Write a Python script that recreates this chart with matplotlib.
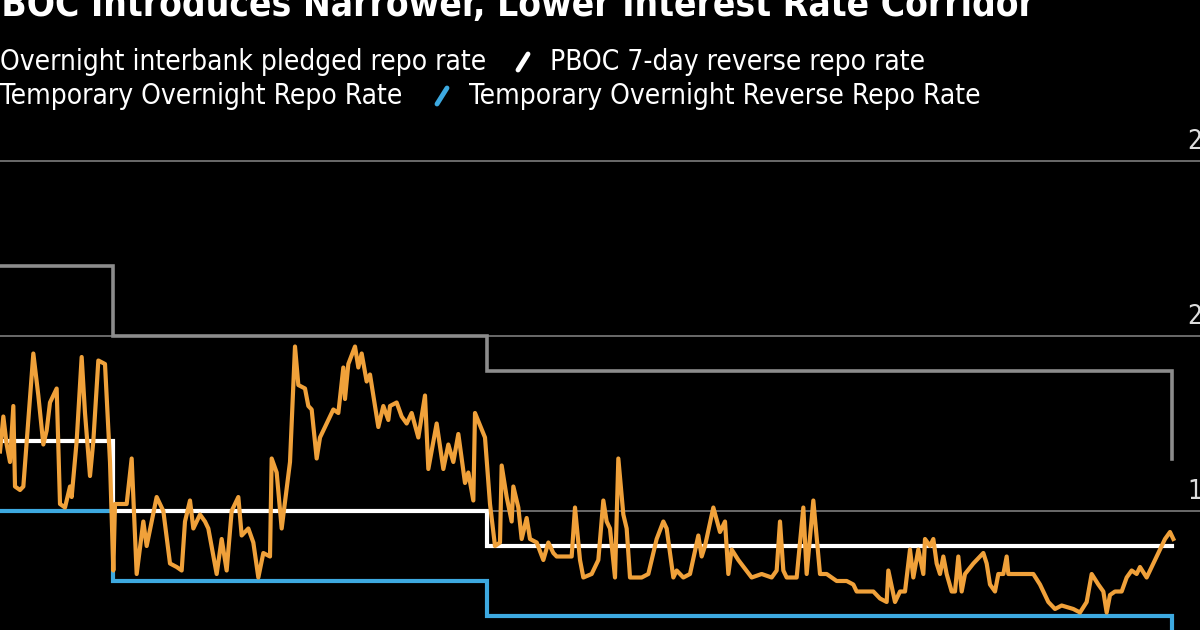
import matplotlib
matplotlib.use("Agg")
import matplotlib.pyplot as plt
from matplotlib import font_manager
from matplotlib.lines import Line2D
import matplotlib.transforms as mtransforms

# ---------------- data ----------------
title = "PBOC Introduces Narrower, Lower Interest Rate Corridor"
series_names = ["Overnight interbank pledged repo rate",
                "PBOC 7-day reverse repo rate",
                "Temporary Overnight Repo Rate",
                "Temporary Overnight Reverse Repo Rate"]

# day index of observations, overnight pledged repo rate (%)
days = [0,2,4,6,8,9,12,14,20,23,26,28,30,34,36,39,42,43,46,49,51,54,56,59,63,66,68,69,76,79,
        82,86,88,94,98,102,106,109,111,114,116,120,123,125,130,133,136,139,143,145,149,152,155,158,162,163,166,169,174,177,
        179,183,185,187,190,192,200,203,206,207,209,213,215,217,220,222,227,230,233,234,238,241,244,247,251,255,257,262,266,269,
        272,275,279,281,284,285,291,294,297,300,301,304,307,308,311,313,316,318,322,326,329,332,334,343,345,348,350,355,359,362,
        364,366,369,371,374,376,378,385,389,394,398,400,404,406,408,410,414,419,421,423,428,432,435,437,439,443,451,457,463,466,
        468,470,472,478,482,484,488,492,496,499,502,508,512,514,520,524,528,532,533,537,540,543,546,548,551,554,555,558,560,562,
        564,566,568,571,573,575,577,579,584,590,592,594,597,599,602,604,605,620,624,626,629,633,637,644,648,652,655,659,662,664,
        666,669,673,676,679,682,684,688,692,696,699,702,704]
pledged_repo = [1.67,1.77,1.69,1.64,1.80,1.57,1.56,1.57,1.95,1.83,1.69,1.73,1.81,1.85,1.52,1.51,1.57,1.54,1.70,1.94,
                1.78,1.60,1.70,1.93,1.92,1.64,1.33,1.52,1.52,1.65,1.32,1.47,1.40,1.54,1.50,1.35,1.34,1.33,1.47,1.53,
                1.45,1.49,1.47,1.45,1.32,1.42,1.33,1.50,1.54,1.43,1.45,1.41,1.31,1.38,1.37,1.65,1.61,1.45,1.64,1.97,
                1.86,1.85,1.80,1.79,1.65,1.71,1.79,1.78,1.91,1.82,1.92,1.97,1.91,1.95,1.87,1.89,1.74,1.80,1.76,1.80,
                1.81,1.77,1.75,1.78,1.71,1.83,1.62,1.75,1.62,1.69,1.64,1.72,1.58,1.61,1.53,1.78,1.71,1.52,1.40,1.41,
                1.63,1.54,1.47,1.57,1.51,1.42,1.48,1.42,1.41,1.36,1.41,1.38,1.37,1.37,1.51,1.36,1.31,1.32,1.36,1.53,
                1.47,1.45,1.31,1.65,1.49,1.45,1.31,1.31,1.32,1.42,1.47,1.45,1.31,1.33,1.32,1.31,1.32,1.43,1.37,1.40,
                1.51,1.44,1.47,1.32,1.39,1.36,1.31,1.32,1.31,1.33,1.47,1.33,1.31,1.31,1.51,1.32,1.53,1.32,1.32,1.31,
                1.30,1.30,1.29,1.27,1.27,1.27,1.25,1.24,1.33,1.24,1.27,1.27,1.39,1.31,1.39,1.32,1.42,1.40,1.42,1.35,
                1.32,1.37,1.32,1.27,1.27,1.37,1.27,1.32,1.35,1.38,1.35,1.29,1.27,1.32,1.32,1.37,1.32,1.32,1.29,1.27,
                1.24,1.22,1.23,1.22,1.21,1.24,1.32,1.29,1.27,1.21,1.26,1.27,1.27,1.31,1.33,1.32,1.34,1.31,1.35,1.39,
                1.42,1.44,1.42]

# policy-rate step changes (day index where each level starts)
change_days = [0, 68, 292, 703]
pboc_7day = [1.70, 1.50, 1.40, 1.40]
temp_repo_ceiling = [2.20, 2.00, 1.90, 1.65]
temp_reverse_floor = [1.50, 1.30, 1.20, 1.15]

y_ticks = [1.5, 2.0, 2.5]
y_tick_labels = ["1.5", "2.0", "2.5"]

# ---------------- style ----------------
W, H, DPI = 1200, 630, 100
BG = "#000000"
C_ORANGE = "#F0A13A"
C_WHITE = "#FFFFFF"
C_GRAY = "#8C8C8C"
C_BLUE = "#3DA9E0"
C_GRID = "#6A6A6A"

names = {(f.name, f.stretch) for f in font_manager.fontManager.ttflist}
fam_names = {n for n, s in names}
if "Liberation Sans Narrow" in fam_names:
    FONT = dict(family="Liberation Sans Narrow")
elif ("DejaVu Sans", "condensed") in names:
    FONT = dict(family="DejaVu Sans", stretch="condensed")
else:
    FONT = dict(family="Roboto")

fig = plt.figure(figsize=(W / DPI, H / DPI), dpi=DPI, facecolor=BG)
ax = fig.add_axes([0, 0, 1, 1])
ax.set_facecolor(BG)

# x: pixel 0 -> day 0, pixel 1200 -> day 720 ; y: pixel 630 -> 1.16, pixel 0 -> 2.96
ax.set_xlim(0, 720)
ax.set_ylim(1.16, 2.96)
for s in ax.spines.values():
    s.set_visible(False)
ax.set_yticks(y_ticks)
ax.set_xticks([])
ax.tick_params(axis="y", length=0, labelleft=False, labelright=False)
ax.grid(axis="y", color=C_GRID, linewidth=1.4)
ax.set_axisbelow(True)

ax.plot(change_days, temp_repo_ceiling, drawstyle="steps-post", color=C_GRAY, lw=2.6,
        solid_joinstyle="miter", zorder=2)
ax.plot(change_days, temp_reverse_floor, drawstyle="steps-post", color=C_BLUE, lw=3.0,
        solid_joinstyle="miter", zorder=2)
ax.plot(change_days, pboc_7day, drawstyle="steps-post", color=C_WHITE, lw=3.0,
        solid_joinstyle="miter", zorder=3)
ax.plot(days, pledged_repo, color=C_ORANGE, lw=3.0, solid_joinstyle="round", zorder=4)

# right-side tick labels, sitting above gridlines (cut by the canvas edge as in the reference)
offset = mtransforms.ScaledTranslation(0, 12 / DPI, fig.dpi_scale_trans)
trans = mtransforms.blended_transform_factory(ax.transAxes, ax.transData) + offset
for v, lab in zip(y_ticks, y_tick_labels):
    ax.text(1187 / W, v, lab, transform=trans, ha="left", va="baseline",
            color="#DDDDDD", fontsize=19, **FONT)

renderer = fig.canvas.get_renderer()


def fit_size(text, target_px, weight="normal", trial=20):
    t = fig.text(0, 0, text, fontsize=trial, fontweight=weight, **FONT)
    w = t.get_window_extent(renderer).width
    t.remove()
    return trial * target_px / w


def fx(px):
    return px / W


def fy(py):
    return 1 - py / H


# title (cut off at the top/left as in the reference)
tsize = fit_size(title[1:], 1038, weight="bold")
fig.text(fx(1035), fy(16), title, ha="right", va="baseline", fontsize=tsize,
         fontweight="bold", color="#FFFFFF", **FONT)

# legend
lsize = fit_size(series_names[0], 487)
fig.text(fx(0), fy(70), series_names[0], ha="left", va="baseline", fontsize=lsize,
         color="#FFFFFF", **FONT)
fig.text(fx(550), fy(70), series_names[1], ha="left", va="baseline", fontsize=lsize,
         color="#FFFFFF", **FONT)
fig.text(fx(0), fy(104), series_names[2], ha="left", va="baseline", fontsize=lsize,
         color="#FFFFFF", **FONT)
fig.text(fx(469), fy(104), series_names[3], ha="left", va="baseline", fontsize=lsize,
         color="#FFFFFF", **FONT)

# slanted legend swatches
for x0, y0, c in [(-30, 70, C_ORANGE), (518, 70, C_WHITE), (-30, 104, C_GRAY), (437, 104, C_BLUE)]:
    fig.add_artist(Line2D([fx(x0), fx(x0 + 10)], [fy(y0), fy(y0 - 16)],
                          color=c, lw=3.5, solid_capstyle="round", transform=fig.transFigure))

fig.savefig("out.png", dpi=DPI, facecolor=BG)
